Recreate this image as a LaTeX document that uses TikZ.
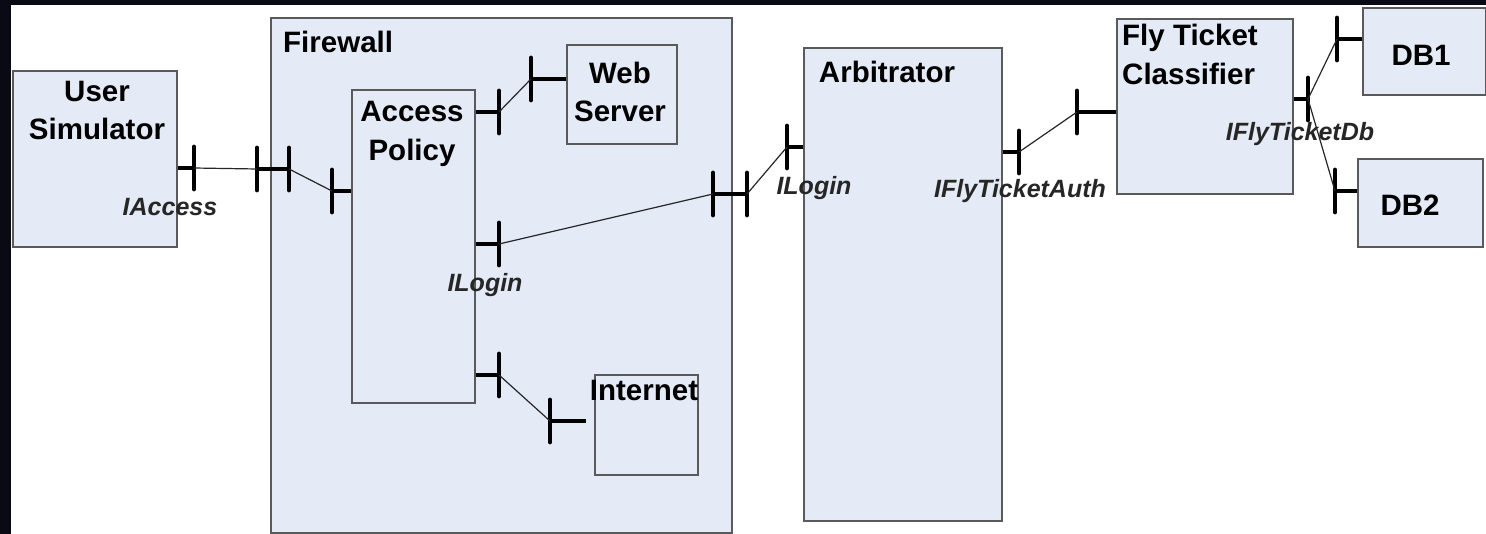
\documentclass[tikz,border=0pt]{standalone}
\usepackage{fontspec}
\setmainfont{Liberation Sans}
\definecolor{darkbg}{RGB}{10,10,20}
\definecolor{boxfill}{RGB}{228,234,246}
\definecolor{boxline}{RGB}{90,90,90}
\tikzset{
  box/.style={draw=boxline, fill=boxfill, line width=1.8pt, anchor=north west, inner sep=0pt},
  ttl/.style={inner sep=0pt, font=\fontsize{29.5}{36}\selectfont\bfseries, text height=21pt, text depth=0pt, text=black},
  ifl/.style={inner sep=0pt, font=\fontsize{25}{30}\selectfont\bfseries\itshape, text height=18pt, text depth=0pt, text=black!85},
  stub/.style={line width=4.8pt, black},
  bar/.style={line width=4.8pt, black, line cap=round},
  wire/.style={line width=1.2pt, black!85}
}
\newcommand\portbar[1]{\draw[bar] ([yshift=21pt]#1) -- ([yshift=-21pt]#1);}
\begin{document}
\begin{tikzpicture}[x=1pt,y=-1pt]
\useasboundingbox (0,0) rectangle (1486,534);
\fill[darkbg] (0,0) rectangle (1486,534);
\fill[white] (11,5) rectangle (1486,534);

% boxes
\node[box, minimum width=164pt, minimum height=176pt] (us) at (12,70) {};
\node[box, minimum width=461pt, minimum height=515pt] (fw) at (270,17) {};
\node[box, minimum width=123pt, minimum height=313pt] (ap) at (351,89) {};
\node[box, minimum width=110pt, minimum height=99pt] (ws) at (566,44) {};
\node[box, minimum width=103pt, minimum height=100pt] (inet) at (594,374) {};
\node[box, minimum width=198pt, minimum height=473pt] (arb) at (803,47) {};
\node[box, minimum width=176pt, minimum height=175pt] (ftc) at (1116,18) {};
\node[box, minimum width=123pt, minimum height=87pt] (db1) at (1362,7) {};
\node[box, minimum width=125pt, minimum height=88pt] (db2) at (1357,158) {};

% titles
\node[ttl] (usT1) at (97,91) {User};
\node[ttl] (usT2) at (97,129) {Simulator};
\node[ttl, anchor=west] (fwT) at (283,42) {Firewall};
\node[ttl] (apT1) at (412,111) {Access};
\node[ttl] (apT2) at (412,150) {Policy};
\node[ttl] (wsT1) at (620,73) {Web};
\node[ttl] (wsT2) at (620,111) {Server};
\node[ttl] (inetT) at (644,390) {Internet};
\node[ttl] (arbT) at (887,72) {Arbitrator};
\node[ttl, anchor=west] (ftcT1) at (1122,35) {Fly Ticket};
\node[ttl, anchor=west] (ftcT2) at (1122,74) {Classifier};
\node[ttl] (db1T) at (1421,55) {DB1};
\node[ttl] (db2T) at (1410,205) {DB2};

% port coordinates
\coordinate (pA) at (194,168);
\coordinate (pB1) at (257,169);
\coordinate (pB2) at (289,169);
\coordinate (pC) at (332,191);
\coordinate (pD) at (499,112);
\coordinate (pE) at (531,79);
\coordinate (pF) at (499,244);
\coordinate (pG1) at (713,194);
\coordinate (pG2) at (747,194);
\coordinate (pH) at (787,147);
\coordinate (pI) at (1019,152);
\coordinate (pJ) at (1077,112);
\coordinate (pK) at (1308,99);
\coordinate (pL) at (1337,39);
\coordinate (pM) at (1335,191);
\coordinate (pN) at (499,375);
\coordinate (pO) at (550,421);
\coordinate (pOe) at (586,421);

% stubs
\draw[stub] (us.east |- pA) -- (pA);
\draw[stub] (pB1) -- (pB2);
\draw[stub] (pC) -- (ap.west |- pC);
\draw[stub] (ap.east |- pD) -- (pD);
\draw[stub] (pE) -- (ws.west |- pE);
\draw[stub] (ap.east |- pF) -- (pF);
\draw[stub] (pG1) -- (pG2);
\draw[stub] (pH) -- (arb.west |- pH);
\draw[stub] (arb.east |- pI) -- (pI);
\draw[stub] (pJ) -- (ftc.west |- pJ);
\draw[stub] (ftc.east |- pK) -- (pK);
\draw[stub] (pL) -- (db1.west |- pL);
\draw[stub] (pM) -- (db2.west |- pM);
\draw[stub] (ap.east |- pN) -- (pN);
\draw[stub] (pO) -- (pOe);

% bars
\portbar{pA}\portbar{pB1}\portbar{pB2}\portbar{pC}
\portbar{pD}\portbar{pE}\portbar{pF}\portbar{pG1}\portbar{pG2}
\portbar{pH}\portbar{pI}\portbar{pJ}\portbar{pK}\portbar{pL}\portbar{pM}
\portbar{pN}\portbar{pO}

% wires
\draw[wire] (pA) -- (pB1);
\draw[wire] (pB2) -- (pC);
\draw[wire] (pD) -- (pE);
\draw[wire] (pF) -- (pG1);
\draw[wire] (pG2) -- (pH);
\draw[wire] (pI) -- (pJ);
\draw[wire] (pK) -- (pL);
\draw[wire] (pK) -- (pM);
\draw[wire] (pN) -- (pO);

% interface labels
\node[ifl] (lIA) at (170,207) {IAccess};
\node[ifl] (lIL1) at (485,283) {ILogin};
\node[ifl] (lIL2) at (814,186) {ILogin};
\node[ifl] (lIFA) at (1020,189) {IFlyTicketAuth};
\node[ifl] (lIFD) at (1300,132) {IFlyTicketDb};
\end{tikzpicture}
\end{document}
